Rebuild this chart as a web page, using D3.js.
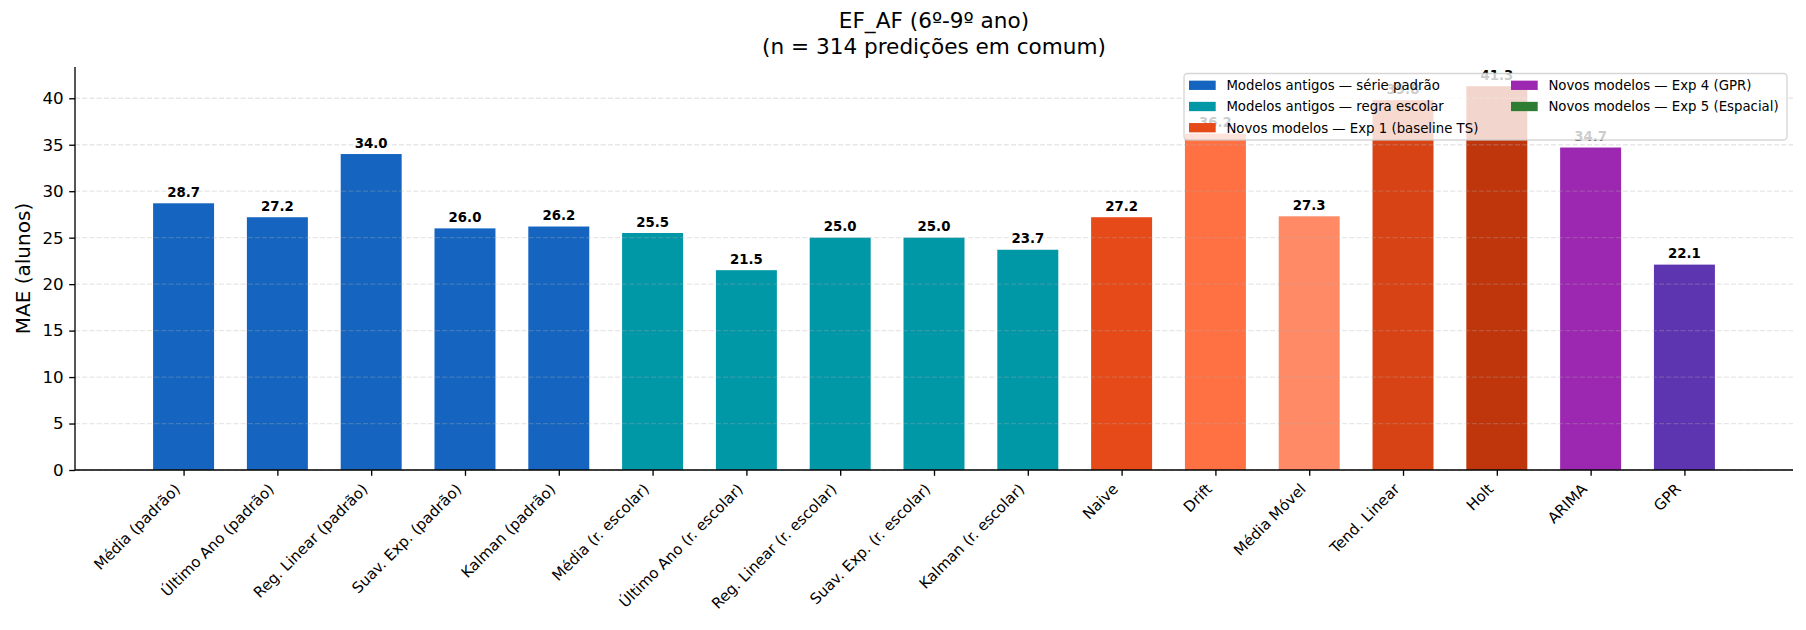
<!DOCTYPE html>
<html><head><meta charset="utf-8">
<script src="https://cdn.jsdelivr.net/npm/d3@7"></script>
<style>body{margin:0;background:#fff}svg{display:block;font-family:"DejaVu Sans",sans-serif}</style>
</head><body>
<svg id="chart" width="1806" height="630"></svg>
<script>
const categories = ["Média (padrão)","Último Ano (padrão)","Reg. Linear (padrão)","Suav. Exp. (padrão)","Kalman (padrão)",
  "Média (r. escolar)","Último Ano (r. escolar)","Reg. Linear (r. escolar)","Suav. Exp. (r. escolar)","Kalman (r. escolar)",
  "Naive","Drift","Média Móvel","Tend. Linear","Holt","ARIMA","GPR"];
const values = [28.7,27.2,34.0,26.0,26.2,25.5,21.5,25.0,25.0,23.7,27.2,36.2,27.3,39.8,41.3,34.7,22.1];
const barColors = ["#1565C0","#1565C0","#1565C0","#1565C0","#1565C0",
  "#0097A7","#0097A7","#0097A7","#0097A7","#0097A7",
  "#E64A19","#FF7043","#FF8A65","#D84315","#BF360C","#9C27B0","#5E35B1"];
const yTicks = [0,5,10,15,20,25,30,35,40];
const legendLabels = ["Modelos antigos — série padrão","Modelos antigos — regra escolar","Novos modelos — Exp 1 (baseline TS)","Novos modelos — Exp 4 (GPR)","Novos modelos — Exp 5 (Espacial)"];
const legendColors = ["#1565C0","#0097A7","#E64A19","#9C27B0","#2E7D32"];
const titleLines = ["EF_AF (6º-9º ano)","(n = 314 predições em comum)"];
const yLabel = "MAE (alunos)";

const svg = d3.select("#chart");
const L = 75, R = 1793, T = 67, B = 470;
const bw = 0.65, n = categories.length;
const pad = (n - 1 + bw) * 0.05;
const x = d3.scaleLinear().domain([-bw/2 - pad, n - 1 + bw/2 + pad]).range([L, R]);
const y = d3.scaleLinear().domain([0, d3.max(values) * 1.05]).range([B, T]);
const unit = x(1) - x(0);

// bars
svg.append("g").selectAll("rect").data(values).join("rect")
  .attr("x", (d,i) => x(i - bw/2)).attr("width", bw * unit)
  .attr("y", d => y(d)).attr("height", d => B - y(d))
  .attr("fill", (d,i) => barColors[i]);

// grid (above bars, like matplotlib)
svg.append("g").selectAll("line").data(yTicks).join("line")
  .attr("x1", L).attr("x2", R).attr("y1", d => y(d)).attr("y2", d => y(d))
  .attr("stroke", "#b0b0b0").attr("stroke-opacity", 0.3).attr("stroke-width", 1.3)
  .attr("stroke-dasharray", "5,2.2");

// value labels
svg.append("g").selectAll("text").data(values).join("text")
  .attr("x", (d,i) => x(i)).attr("y", d => y(d) - 6.5)
  .attr("text-anchor", "middle").attr("font-size", 13.3).attr("font-weight", "bold")
  .attr("fill", "#000").text(d => d.toFixed(1));

// axes
const yAxis = d3.axisLeft(y).tickValues(yTicks).tickSize(5.8).tickPadding(5.5).tickFormat(d3.format("d"));
const gy = svg.append("g").attr("transform", `translate(${L},0)`).call(yAxis);
gy.select(".domain").attr("d", `M0,${T}V${B}`).attr("stroke-width", 1.33);
gy.selectAll(".tick line").attr("stroke-width", 1.33);
gy.selectAll(".tick text").attr("font-size", 16.7).attr("font-family", "DejaVu Sans").attr("fill", "#000");

const xAxis = d3.axisBottom(x).tickValues(d3.range(n)).tickSize(5.8).tickFormat(() => "");
const gx = svg.append("g").attr("transform", `translate(0,${B})`).call(xAxis);
gx.select(".domain").attr("d", `M${L},0H${R}`).attr("stroke-width", 1.33);
gx.selectAll(".tick line").attr("stroke-width", 1.33);

// rotated x labels
svg.append("g").selectAll("text").data(categories).join("text")
  .attr("transform", (d,i) => `translate(${x(i) - 2.5},${B + 20}) rotate(-45)`)
  .attr("text-anchor", "end").attr("font-size", 15).attr("fill", "#000").text(d => d);

// y label
svg.append("text").attr("transform", `translate(29.5,${(T+B)/2}) rotate(-90)`)
  .attr("text-anchor", "middle").attr("font-size", 20).attr("fill", "#000").text(yLabel);

// title
svg.append("g").selectAll("text").data(titleLines).join("text")
  .attr("x", (L+R)/2).attr("y", (d,i) => 28 + i * 25.5)
  .attr("text-anchor", "middle").attr("font-size", 21.6).attr("fill", "#000").text(d => d);

// legend
const lg = svg.append("g");
lg.append("rect").attr("x", 1184).attr("y", 73.5).attr("width", 603).attr("height", 66.5)
  .attr("rx", 3.5).attr("fill", "#fff").attr("fill-opacity", 0.8)
  .attr("stroke", "#cccccc").attr("stroke-opacity", 0.8).attr("stroke-width", 1.33);
const colX = [1189, 1511], rowY = [85.3, 106.5, 127.7];
legendLabels.forEach((lab, i) => {
  const c = i < 3 ? 0 : 1, r = i < 3 ? i : i - 3;
  lg.append("rect").attr("x", colX[c]).attr("y", rowY[r] - 4.65).attr("width", 26.7).attr("height", 9.3)
    .attr("fill", legendColors[i]);
  lg.append("text").attr("x", colX[c] + 37.4).attr("y", rowY[r] + 4.8)
    .attr("font-size", 13.3).attr("fill", "#000").text(lab);
});
</script>
</body></html>
